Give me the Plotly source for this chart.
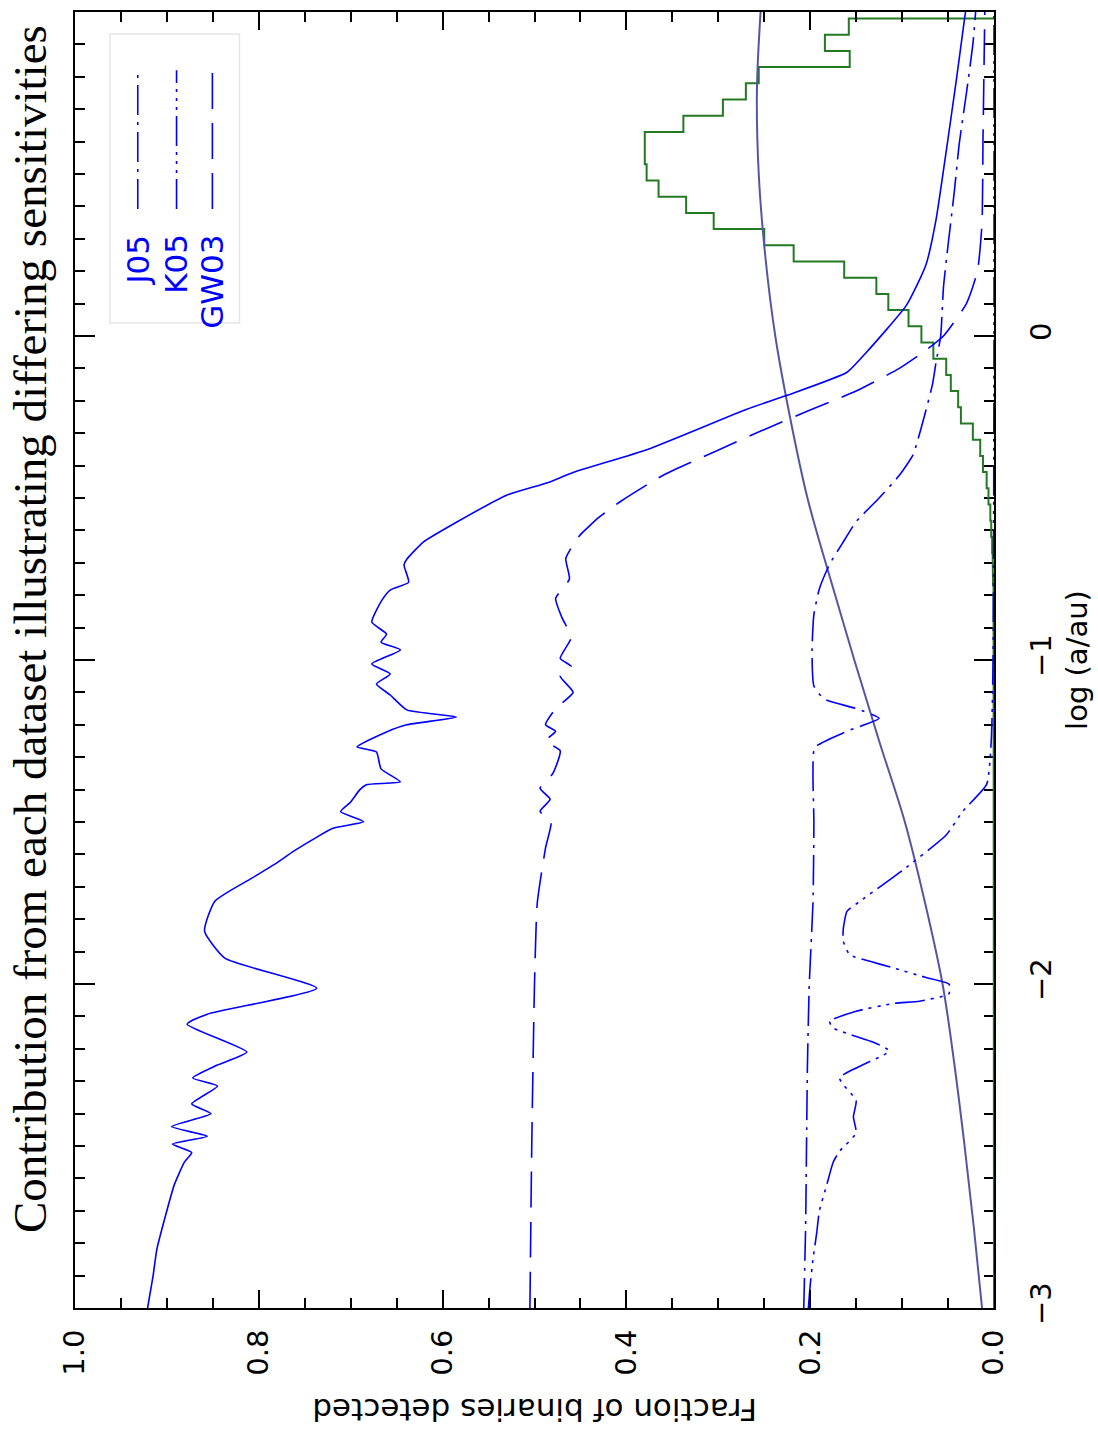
import plotly.graph_objects as go

# ---------------- data ----------------
# Total (solid blue)
tot_loga = [-3.0, -2.9, -2.82, -2.72, -2.62, -2.55, -2.52, -2.494, -2.47, -2.44, -2.40, -2.37, -2.315,
            -2.29, -2.25, -2.21, -2.124, -2.093, -2.013, -1.92, -1.837, -1.745, -1.674, -1.631, -1.59,
            -1.552, -1.52, -1.499, -1.468, -1.438, -1.40, -1.385, -1.376, -1.336, -1.284, -1.268, -1.222,
            -1.2, -1.176, -1.154, -1.108, -1.074, -1.043, -1.012, -0.969, -0.945, -0.92, -0.883, -0.815,
            -0.784, -0.76, -0.707, -0.689, -0.636, -0.575, -0.492, -0.452, -0.421, -0.35, -0.226, -0.183,
            -0.112, -0.051, 0.096, 0.22, 0.36, 0.57, 0.79, 0.98, 1.0]
tot_frac = [0.921, 0.915, 0.911, 0.902, 0.892, 0.881, 0.873, 0.894, 0.856, 0.895, 0.852, 0.873, 0.845,
            0.872, 0.845, 0.813, 0.878, 0.856, 0.737, 0.837, 0.859, 0.848, 0.808, 0.783, 0.762,
            0.74, 0.72, 0.686, 0.711, 0.70, 0.69, 0.683, 0.646, 0.667, 0.672, 0.693, 0.661,
            0.639, 0.585, 0.639, 0.657, 0.672, 0.657, 0.677, 0.646, 0.667, 0.661, 0.677, 0.666,
            0.657, 0.637, 0.642, 0.639, 0.621, 0.585, 0.531, 0.485, 0.458, 0.377, 0.269, 0.225,
            0.16, 0.139, 0.095, 0.074, 0.063, 0.052, 0.041, 0.032, 0.031]

# J05 (dash-dot)
j05_loga = [-3.0, -2.75, -2.5, -2.25, -2.0, -1.75, -1.5, -1.35, -1.27, -1.22, -1.18, -1.15, -1.12,
            -1.08, -0.97, -0.86, -0.78, -0.705, -0.64, -0.573, -0.5, -0.43, -0.366, -0.25, -0.15,
            -0.08, 0.0, 0.15, 0.28, 0.45, 0.59, 0.75, 0.9, 1.0]
j05_frac = [0.207, 0.205, 0.204, 0.203, 0.201, 0.197, 0.196, 0.197, 0.195, 0.16, 0.125, 0.15, 0.185,
            0.196, 0.198, 0.196, 0.19, 0.179, 0.165, 0.15, 0.125, 0.103, 0.088, 0.076, 0.067,
            0.063, 0.058, 0.055, 0.05, 0.043, 0.038, 0.03, 0.023, 0.02]

# K05 (dash-dot-dot-dot)
k05_loga = [-3.0, -2.93, -2.85, -2.77, -2.7, -2.62, -2.55, -2.516, -2.46, -2.41, -2.36, -2.29, -2.207,
            -2.18, -2.136, -2.115, -2.084, -2.06, -2.053, -2.03, -2.0, -1.98, -1.95, -1.93, -1.91,
            -1.868, -1.83, -1.776, -1.745, -1.65, -1.54, -1.467, -1.384, -1.25, -1.0, 0.0, 1.0]
k05_frac = [0.202, 0.2, 0.197, 0.193, 0.19, 0.182, 0.175, 0.168, 0.15, 0.153, 0.15, 0.168, 0.114,
            0.131, 0.175, 0.179, 0.15, 0.109, 0.081, 0.049, 0.049, 0.074, 0.11, 0.135, 0.157,
            0.164, 0.164, 0.16, 0.146, 0.1, 0.052, 0.034, 0.008, 0.003, 0.001, 0.0, 0.0]

# GW03 (long dash)
gw03_loga = [-3.0, -2.5, -2.0, -1.75, -1.58, -1.5, -1.467, -1.43, -1.396, -1.35, -1.28, -1.25, -1.22,
             -1.2, -1.15, -1.1, -1.05, -1.02, -0.995, -0.93, -0.87, -0.81, -0.75, -0.687, -0.644,
             -0.613, -0.56, -0.51, -0.428, -0.357, -0.295, -0.233, -0.17, -0.1, -0.05, 0.0, 0.1,
             0.2, 0.35, 0.6, 1.0]
gw03_frac = [0.505, 0.503, 0.5, 0.497, 0.488, 0.482, 0.494, 0.483, 0.494, 0.48, 0.472, 0.488, 0.477,
             0.488, 0.477, 0.458, 0.472, 0.46, 0.472, 0.46, 0.47, 0.477, 0.462, 0.466, 0.458,
             0.45, 0.43, 0.406, 0.359, 0.304, 0.255, 0.204, 0.15, 0.103, 0.077, 0.055, 0.03,
             0.018, 0.013, 0.012, 0.01]

# Smooth purple curve
dist_loga = [-3.0, -2.75, -2.5, -2.25, -2.0, -1.75, -1.5, -1.25, -1.0, -0.75, -0.5, -0.25, 0.0,
             0.25, 0.5, 0.75, 1.0]
dist_frac = [0.013, 0.022, 0.032, 0.043, 0.056, 0.075, 0.097, 0.125, 0.152, 0.178, 0.203, 0.222,
             0.238, 0.249, 0.256, 0.258, 0.254]

# Green histogram: lower bin edges (log a), bin width, bin values
hist_lo = [-0.82, -0.77, -0.72, -0.67, -0.62, -0.57, -0.52, -0.47, -0.42, -0.37, -0.32, -0.27,
           -0.22, -0.17, -0.12, -0.07, -0.02, 0.03, 0.08, 0.13, 0.18, 0.23, 0.28, 0.33, 0.38,
           0.43, 0.48, 0.53, 0.58, 0.63, 0.68, 0.73, 0.78, 0.83, 0.88, 0.93]
hist_width = 0.05
hist_val = [0.0005, 0.001, 0.0015, 0.002, 0.003, 0.004, 0.006, 0.008, 0.012, 0.015, 0.023, 0.036,
            0.039, 0.047, 0.052, 0.066, 0.079, 0.093, 0.115, 0.128, 0.163, 0.218, 0.25, 0.305, 0.335,
            0.365, 0.378, 0.38, 0.38, 0.338, 0.295, 0.27, 0.256, 0.157, 0.184, 0.158]

x_ticks = [0.0, 0.2, 0.4, 0.6, 0.8, 1.0]
x_ticktext = ["0.0", "0.2", "0.4", "0.6", "0.8", "1.0"]
y_ticks = [-3, -2, -1, 0, 1]
y_ticktext = ["\u22123", "\u22122", "\u22121", "0", "1"]

legend_names = ["J05", "K05", "GW03"]

# ---------------- styles ----------------
BLUE = "#0000ff"
PURPLE = "#5555a5"
GREEN = "#237a23"
DASH_J05 = "30px,7px,3px,7px"
DASH_K05 = "30px,6px,3px,6px,3px,6px,3px,6px"
DASH_GW03 = "36px,14px"
legend_dashes = [DASH_J05, DASH_K05, DASH_GW03]
SANS = "DejaVu Sans"

fig = go.Figure()

# histogram outline built from bins
hx = [0.0, 0.0]
hy = [-3.0, hist_lo[0]]
for lo, v in zip(hist_lo, hist_val):
    hx += [v, v]
    hy += [lo, lo + hist_width]
hx.append(0.0)
hy.append(hist_lo[-1] + hist_width)
fig.add_trace(go.Scatter(x=hx, y=hy, mode="lines", line=dict(color=GREEN, width=2),
                         cliponaxis=False, hoverinfo="skip"))

fig.add_trace(go.Scatter(x=dist_frac, y=dist_loga, mode="lines",
                         line=dict(color=PURPLE, width=2, shape="spline"), hoverinfo="skip"))
fig.add_trace(go.Scatter(x=tot_frac, y=tot_loga, mode="lines",
                         line=dict(color=BLUE, width=1.6, shape="spline", smoothing=0.5),
                         hoverinfo="skip"))
fig.add_trace(go.Scatter(x=j05_frac, y=j05_loga, mode="lines",
                         line=dict(color=BLUE, width=1.6, dash=DASH_J05, shape="spline", smoothing=0.5),
                         hoverinfo="skip"))
fig.add_trace(go.Scatter(x=k05_frac, y=k05_loga, mode="lines",
                         line=dict(color=BLUE, width=1.6, dash=DASH_K05, shape="spline", smoothing=0.5),
                         cliponaxis=False, hoverinfo="skip"))
fig.add_trace(go.Scatter(x=gw03_frac, y=gw03_loga, mode="lines",
                         line=dict(color=BLUE, width=1.6, dash=DASH_GW03, shape="spline", smoothing=0.5),
                         hoverinfo="skip"))

TICKFONT = dict(family=SANS, size=29, color="black")

fig.update_layout(
    width=1098, height=1434,
    margin=dict(l=75, r=100, t=10, b=126),
    plot_bgcolor="white", paper_bgcolor="white",
    showlegend=False,
    xaxis=dict(
        range=[1.0, 0.0], tickmode="array", tickvals=x_ticks, ticktext=x_ticktext,
        tickangle=-90, ticks="inside", ticklen=18, tickwidth=1.5, tickcolor="black",
        minor=dict(ticks="inside", ticklen=10, tickwidth=1.5, tickcolor="black",
                   tickmode="linear", tick0=0, dtick=0.05),
        showline=True, linecolor="black", linewidth=2, mirror="allticks",
        showgrid=False, zeroline=False, tickfont=TICKFONT, ticklabelstandoff=8,
    ),
    yaxis=dict(
        range=[-3, 1], side="right", tickmode="array", tickvals=y_ticks, ticktext=y_ticktext,
        tickangle=-90, ticks="inside", ticklen=20, tickwidth=1.5, tickcolor="black",
        minor=dict(ticks="inside", ticklen=10, tickwidth=1.5, tickcolor="black",
                   tickmode="linear", tick0=-3, dtick=0.1),
        showline=True, linecolor="black", linewidth=2, mirror="allticks", layer="below traces",
        showgrid=False, zeroline=False, tickfont=TICKFONT, ticklabelstandoff=20,
        title=dict(text="log (a/au)", font=TICKFONT, standoff=10),
    ),
)

# upside-down x-axis title
fig.add_annotation(text="Fraction of binaries detected", xref="paper", yref="paper",
                   x=0.5, y=-0.0786, textangle=180, showarrow=False,
                   xanchor="center", yanchor="middle",
                   font=dict(family=SANS, size=31, color="black"))
# rotated chart title
fig.add_annotation(text="Contribution from each dataset illustrating differing sensitivities",
                   xref="paper", yref="paper", x=-0.0488, y=0.524, textangle=-90, showarrow=False,
                   xanchor="center", yanchor="middle",
                   font=dict(family="Liberation Serif", size=47, color="black"))

# legend box (drawn rotated, as in the reference)
fig.add_shape(type="rect", xref="paper", yref="paper", x0=0.038, x1=0.179, y0=0.760, y1=0.983,
              line=dict(color="#e6e6e6", width=1.5))
leg_x = [0.0683, 0.1105, 0.1495]
for name, lx, dsh in zip(legend_names, leg_x, legend_dashes):
    fig.add_shape(type="line", xref="paper", yref="paper", x0=lx, x1=lx, y0=0.848, y1=0.955,
                  line=dict(color=BLUE, width=1.6, dash=dsh))
    fig.add_annotation(text=name, xref="paper", yref="paper", x=lx, y=0.830, textangle=-90,
                       xanchor="center", yanchor="top", showarrow=False,
                       font=dict(family=SANS, size=31, color=BLUE))

fig.write_html("out.html")
